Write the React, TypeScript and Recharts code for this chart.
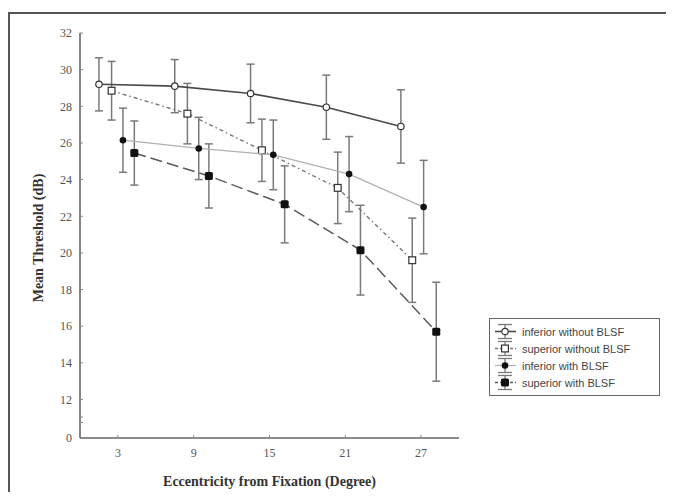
import React from 'react';
import { ScatterChart, Scatter, XAxis, YAxis, ErrorBar, Legend } from 'recharts';

// ---- data ----
const xTicks = [3, 9, 15, 21, 27];
const yTicks = [9.9, 10.75, 11.05, 12, 14, 16, 18, 20, 22, 24, 26, 28, 30, 32];
const yZeroTick = 9.9; // axis break: bottom tick is labelled "0"

const seriesNames = [
  'inferior without BLSF',
  'superior without BLSF',
  'inferior with BLSF',
  'superior with BLSF',
];

const infWithoutX = [1.5, 7.5, 13.5, 19.5, 25.4];
const infWithoutY = [29.2, 29.1, 28.7, 27.95, 26.9];
const infWithoutE = [1.45, 1.45, 1.6, 1.75, 2.0];

const supWithoutX = [2.5, 8.5, 14.4, 20.4, 26.3];
const supWithoutY = [28.85, 27.6, 25.6, 23.55, 19.6];
const supWithoutE = [1.6, 1.65, 1.7, 1.95, 2.3];

const infWithX = [3.4, 9.4, 15.3, 21.3, 27.2];
const infWithY = [26.15, 25.7, 25.35, 24.3, 22.5];
const infWithE = [1.75, 1.7, 1.9, 2.05, 2.55];

const supWithX = [4.3, 10.2, 16.2, 22.2, 28.2];
const supWithY = [25.45, 24.2, 22.65, 20.15, 15.7];
const supWithE = [1.75, 1.75, 2.1, 2.45, 2.7];

const build = (xs: number[], ys: number[], es: number[]) =>
  xs.map((x, i) => ({ x, y: ys[i], e: es[i] }));

const dInfWithout = build(infWithoutX, infWithoutY, infWithoutE);
const dSupWithout = build(supWithoutX, supWithoutY, supWithoutE);
const dInfWith = build(infWithX, infWithY, infWithE);
const dSupWith = build(supWithX, supWithY, supWithE);

// ---- styles ----
const W = 666;
const H = 484;
const ERR = '#7a7a7a';
const serif = '"Liberation Serif", "DejaVu Serif", serif';
const sans = '"Liberation Sans", Arial, sans-serif';

const lineStyles = [
  { stroke: '#4a4a4a', strokeWidth: 1.6 },
  { stroke: '#777', strokeWidth: 1.4, strokeDasharray: '4 3 1.5 3' },
  { stroke: '#b0b0b0', strokeWidth: 1.2 },
  { stroke: '#5a5a5a', strokeWidth: 1.5, strokeDasharray: '12 5' },
];

const drawMarker = (k: number, cx: number, cy: number) => {
  if (k === 0) return <circle cx={cx} cy={cy} r={3.2} fill="#fff" stroke="#333" strokeWidth={1.2} />;
  if (k === 1) return <rect x={cx - 3.4} y={cy - 3.4} width={6.8} height={6.8} fill="#fff" stroke="#333" strokeWidth={1.2} />;
  if (k === 2) return <circle cx={cx} cy={cy} r={3.3} fill="#111" />;
  return <rect x={cx - 4} y={cy - 4} width={8} height={8} rx={1.5} fill="#111" />;
};

const shapeFor = (k: number) => (p: any) => <g>{drawMarker(k, p.cx, p.cy)}</g>;

const XLabel = (props: any) => {
  const vb = props.viewBox || { x: 72, y: 430, width: 379, height: 54 };
  const cx = vb.x + vb.width / 2;
  const cy = vb.y + 48;
  return (
    <text x={cx} y={cy} textAnchor="middle" fontFamily={serif} fontWeight="bold" fontSize={14} fill="#333">
      Eccentricity from Fixation (Degree)
    </text>
  );
};

const YLabel = (props: any) => {
  const vb = props.viewBox || { x: 0, y: 25, width: 72, height: 405 };
  const cx = vb.x + 30.6;
  const cy = vb.y + vb.height / 2 + 2.5;
  return (
    <text
      x={cx}
      y={cy}
      transform={`rotate(-90 ${cx} ${cy})`}
      textAnchor="middle"
      dominantBaseline="central"
      fontFamily={serif}
      fontWeight="bold"
      fontSize={14}
      fill="#333"
    >
      Mean Threshold (dB)
    </text>
  );
};

const LegendIcon = ({ k }: { k: number }) => {
  const ls = lineStyles[k];
  return (
    <svg width={24} height={17} style={{ display: 'block' }}>
      <line x1={4} y1={1.5} x2={18} y2={1.5} stroke={ERR} strokeWidth={1.3} />
      <line x1={4} y1={15.5} x2={18} y2={15.5} stroke={ERR} strokeWidth={1.3} />
      <line x1={11} y1={1.5} x2={11} y2={15.5} stroke={ERR} strokeWidth={1.3} />
      <line x1={1} y1={8.5} x2={22} y2={8.5} stroke={ls.stroke} strokeWidth={ls.strokeWidth} strokeDasharray={ls.strokeDasharray ? '3 2' : undefined} />
      {drawMarker(k, 11, 8.5)}
    </svg>
  );
};

const LegendBox = () => (
  <div
    style={{
      border: '1.5px solid #666',
      background: '#fff',
      padding: '4px 6px 4px 4px',
      boxSizing: 'border-box',
      width: 171,
      fontFamily: sans,
      fontSize: 11,
      color: '#444',
    }}
  >
    {seriesNames.map((n, k) => (
      <div key={n} style={{ display: 'flex', alignItems: 'center', height: 17 }}>
        <LegendIcon k={k} />
        <span style={{ marginLeft: 4, whiteSpace: 'nowrap' }}>{n}</span>
      </div>
    ))}
  </div>
);

const yFmt = (v: number) => (v === yZeroTick ? '0' : Number.isInteger(v) ? String(v) : '');

const datasets = [dInfWithout, dSupWithout, dInfWith, dSupWith];

export default function App() {
  return (
    <div style={{ position: 'relative', width: W, height: H, overflow: 'hidden', background: '#fff' }}>
      <div
        style={{
          position: 'absolute',
          left: 0,
          top: 4,
          width: W + 40,
          height: H + 40,
          border: '2px solid #555',
          boxSizing: 'border-box',
        }}
      />
      <div style={{ position: 'absolute', left: 0, top: 0 }}>
        <ScatterChart width={W} height={H} margin={{ top: 25, right: 215, bottom: 0, left: 0 }}>
          <XAxis
            type="number"
            dataKey="x"
            domain={[0, 30]}
            ticks={xTicks}
            interval={0}
            allowDataOverflow
            height={54}
            tickSize={-3}
            tickMargin={13}
            axisLine={{ stroke: '#666', strokeWidth: 1.6 }}
            tickLine={{ stroke: '#888' }}
            tick={{ fontFamily: serif, fontSize: 12, fill: '#555' }}
            label={(p: any) => <XLabel {...p} />}
          />
          <YAxis
            type="number"
            dataKey="y"
            domain={[yZeroTick, 32]}
            ticks={yTicks}
            interval={0}
            allowDataOverflow
            width={72}
            tickSize={-3}
            tickMargin={11}
            tickFormatter={yFmt}
            axisLine={{ stroke: '#666', strokeWidth: 1.6 }}
            tickLine={{ stroke: '#888' }}
            tick={{ fontFamily: serif, fontSize: 12, fill: '#555' }}
            label={(p: any) => <YLabel {...p} />}
          />
          <Legend
            layout="vertical"
            align="center"
            verticalAlign="middle"
            wrapperStyle={{ left: 481, top: 310, width: 171 }}
            content={() => <LegendBox />}
          />
          {datasets.map((d, k) => (
            <Scatter
              key={seriesNames[k]}
              name={seriesNames[k]}
              data={d}
              fill="#111"
              line={lineStyles[k]}
              lineType="joint"
              shape={shapeFor(k)}
              isAnimationActive={false}
            >
              <ErrorBar dataKey="e" direction="y" width={4} stroke={ERR} strokeWidth={1.5} />
            </Scatter>
          ))}
        </ScatterChart>
      </div>
    </div>
  );
}
